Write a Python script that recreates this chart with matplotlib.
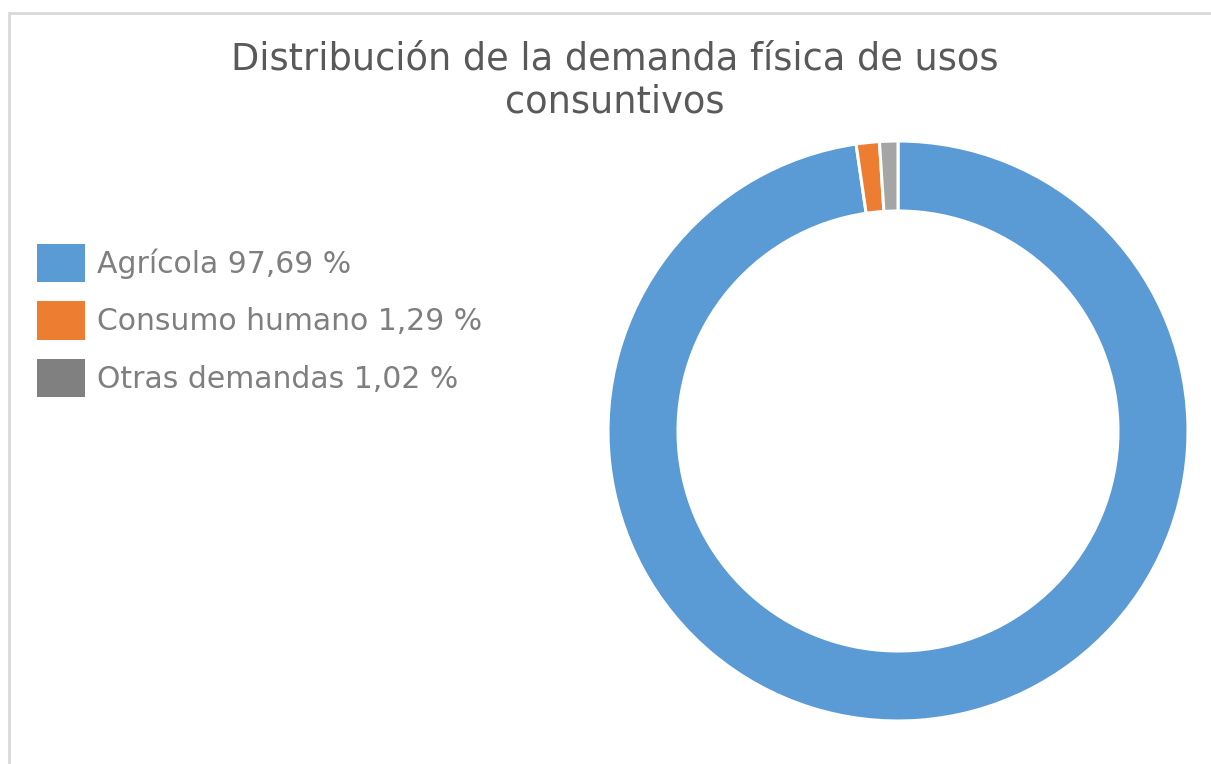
import matplotlib
matplotlib.use("Agg")
import matplotlib.pyplot as plt
from matplotlib.patches import Patch, Rectangle

categories = ["Agrícola", "Consumo humano", "Otras demandas"]
values = [97.69, 1.29, 1.02]
slice_colors = ["#5b9bd5", "#ed7d31", "#a5a5a5"]
legend_colors = ["#5b9bd5", "#ed7d31", "#808080"]
title = "Distribución de la demanda física de usos\nconsuntivos"

W, H = 1211, 764
fig = plt.figure(figsize=(W / 100, H / 100), dpi=100)
fig.patch.set_facecolor("white")

# outer frame
fig.patches.append(Rectangle((9 / W, -0.1), 1.2, (H - 13) / H + 0.1,
                             transform=fig.transFigure, fill=False,
                             edgecolor="#d9d9d9", linewidth=2.0))

cx, cy, R = 898, 431, 290
ax = fig.add_axes([(cx - R) / W, (H - cy - R) / H, 2 * R / W, 2 * R / H])
ax.pie(values, colors=slice_colors, startangle=90, counterclock=False,
       radius=1.0,
       wedgeprops=dict(width=70 / 290, edgecolor="white", linewidth=2.2))
ax.set_xlim(-1, 1)
ax.set_ylim(-1, 1)
ax.axis("off")

fig.text(615 / W, 1 - 40 / H, title, ha="center", va="top",
         fontsize=26.5, color="#595959", family="DejaVu Sans",
         linespacing=1.22)

labels = [f"{c} {v:.2f} %".replace(".", ",") for c, v in zip(categories, values)]
handles = [Patch(facecolor=c, edgecolor="none") for c in legend_colors]
leg = fig.legend(handles, labels, loc="upper left",
                 bbox_to_anchor=(37 / W, 1 - 243.5 / H),
                 frameon=False, fontsize=21.5, labelcolor="#7f7f7f",
                 handlelength=1.6, handleheight=1.61, handletextpad=0.4,
                 labelspacing=0.635, borderpad=0, borderaxespad=0)

fig.savefig("out.png", dpi=100)
